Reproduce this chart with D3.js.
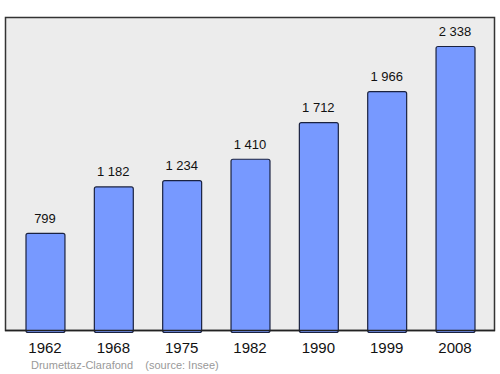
<!DOCTYPE html>
<html>
<head>
<meta charset="utf-8">
<script src="https://cdn.jsdelivr.net/npm/d3@7"></script>
<style>
body { margin: 0; background: #fff; }
text { font-family: "Liberation Sans", Arial, sans-serif; }
</style>
</head>
<body>
<div id="chart"></div>
<script>
var years = ["1962", "1968", "1975", "1982", "1990", "1999", "2008"];
var population = [799, 1182, 1234, 1410, 1712, 1966, 2338];
var valueLabels = ["799", "1 182", "1 234", "1 410", "1 712", "1 966", "2 338"];

var width = 500, height = 374;
var panel = {left: 5, top: 17, right: 495, bottom: 330};

var svg = d3.select("#chart").append("svg")
    .attr("width", width)
    .attr("height", height);

svg.append("rect")
    .attr("x", panel.left + 0.5)
    .attr("y", panel.top + 0.5)
    .attr("width", panel.right - panel.left - 1)
    .attr("height", panel.bottom - panel.top)
    .attr("fill", "#ececec")
    .attr("stroke", "#333")
    .attr("stroke-width", 1.5);

var x = d3.scaleBand()
    .domain(years)
    .range([panel.left, panel.right])
    .paddingInner(0.43)
    .paddingOuter(0.3);

var y = d3.scaleLinear()
    .domain([0, 2338])
    .range([panel.bottom, 46]);

var data = years.map(function (d, i) {
    return {year: d, value: population[i], label: valueLabels[i]};
});

svg.selectAll(".bar")
    .data(data)
    .enter().append("rect")
    .attr("class", "bar")
    .attr("x", function (d) { return x(d.year) + 0.5; })
    .attr("y", function (d) { return y(d.value) + 0.5; })
    .attr("width", x.bandwidth())
    .attr("height", function (d) { return panel.bottom - y(d.value) + 2; })
    .attr("rx", 2)
    .attr("fill", "#7799ff")
    .attr("stroke", "#1a2240")
    .attr("stroke-width", 1.2);

// baseline
svg.append("line")
    .attr("x1", panel.left)
    .attr("x2", panel.right)
    .attr("y1", panel.bottom + 0.5)
    .attr("y2", panel.bottom + 0.5)
    .attr("stroke", "#222")
    .attr("stroke-width", 1.5);

svg.selectAll(".value")
    .data(data)
    .enter().append("text")
    .attr("class", "value")
    .attr("x", function (d) { return x(d.year) + x.bandwidth() / 2; })
    .attr("y", function (d) { return y(d.value) - 10; })
    .attr("text-anchor", "middle")
    .attr("font-size", 13)
    .attr("fill", "#111")
    .text(function (d) { return d.label; });

var xAxis = svg.append("g")
    .attr("transform", "translate(0," + panel.bottom + ")")
    .call(d3.axisBottom(x).tickSize(0).tickPadding(12));
xAxis.select(".domain").remove();
xAxis.selectAll("text")
    .attr("font-size", 15)
    .attr("font-family", "Liberation Sans, Arial, sans-serif")
    .attr("fill", "#111");

svg.append("text")
    .attr("x", 31)
    .attr("y", 369)
    .attr("font-size", 11)
    .attr("fill", "#999")
    .attr("xml:space", "preserve")
    .text("Drumettaz-Clarafond    (source: Insee)");
</script>
</body>
</html>
